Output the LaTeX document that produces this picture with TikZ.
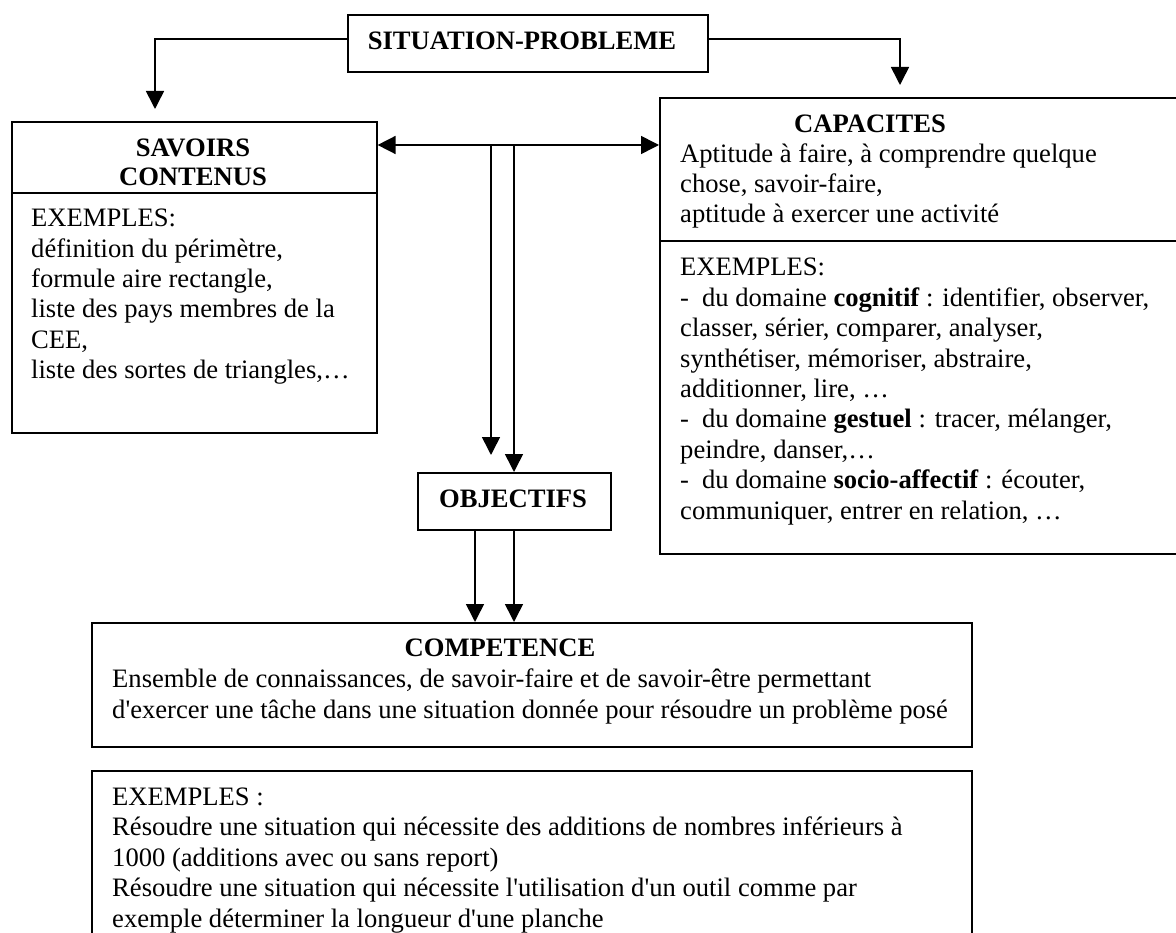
\documentclass[tikz,border=0pt]{standalone}
\usepackage{fontspec}
\setmainfont{Liberation Serif}
\usetikzlibrary{arrows.meta}
\begin{document}
\begin{tikzpicture}[x=1pt,y=-1pt,
  box/.style={draw, line width=1.6pt, inner sep=0pt, anchor=north west},
  tl/.style={anchor=base west, inner sep=0pt, font=\fontsize{26.6}{30}\selectfont},
  tc/.style={anchor=base, inner sep=0pt, font=\fontsize{26.6}{30}\selectfont\bfseries},
  conn/.style={line width=1.6pt},
  arr/.style={conn, -{Triangle[length=18pt,width=18pt]}},
  dbl/.style={conn, {Triangle[length=18pt,width=18pt]}-{Triangle[length=18pt,width=18pt]}}]
\clip (0,0) rectangle (1176,933);
\fill[white] (0,0) rectangle (1176,933);
% boxes
\node[box, minimum width=360pt, minimum height=57pt] (sp) at (347,14) {};
\node[box, minimum width=365pt, minimum height=311pt] (sav) at (11,121) {};
\node[box, minimum width=540pt, minimum height=456pt] (cap) at (659,97) {};
\node[box, minimum width=193pt, minimum height=57pt] (obj) at (417,472) {};
\node[box, minimum width=880pt, minimum height=124pt] (comp) at (91,622) {};
\node[box, minimum width=880pt, minimum height=220pt] (ex) at (91,770) {};
% dividers
\coordinate (d1) at (0,193);
\coordinate (d2) at (0,241);
\draw[line width=1.5pt] (sav.west |- d1) -- (sav.east |- d1);
\draw[line width=2.6pt] (cap.west |- d2) -- (cap.east |- d2);
% connectors
\coordinate (a1) at (155,109);
\coordinate (a2) at (900,85);
\draw[arr] ([yshift=4.5pt]sp.west) -| (a1);
\draw[arr] ([yshift=4.5pt]sp.east) -| (a2);
\coordinate (j1) at (491,145);
\coordinate (j2) at (514,145);
\coordinate (e1) at (491,455);
\draw[dbl] (sav.east |- j1) -- (cap.west |- j1);
\draw[arr] (j1) -- (e1);
\draw[arr] (j2) -- (j2 |- obj.north);
\coordinate (k1) at (475,600);
\coordinate (k2) at (514,600);
\draw[arr] (obj.south -| k1) -- (comp.north -| k1);
\draw[arr] (obj.south -| k2) -- (comp.north -| k2);
% texts
\node[tc] (tsp) at (522,50) {SITUATION-PROBLEME};
\node[tc] (ts1) at (193,157) {SAVOIRS};
\node[tc] (ts2) at (193,186) {CONTENUS};
\node[tl] (ts3) at (31,227) {EXEMPLES:};
\node[tl] (ts4) at (31,258) {définition du périmètre,};
\node[tl] (ts5) at (31,288) {formule aire rectangle,};
\node[tl] (ts6) at (31,318) {liste des pays membres de la};
\node[tl] (ts7) at (31,349) {CEE,};
\node[tl] (ts8) at (31,379) {liste des sortes de triangles,…};
\node[tc] (tc0) at (870,133) {CAPACITES};
\node[tl] (tc1) at (680,163) {Aptitude à faire, à comprendre quelque};
\node[tl] (tc2) at (680,193) {chose, savoir-faire,};
\node[tl] (tc3) at (680,223) {aptitude à exercer une activité};
\node[tl] (tc4) at (680,276) {EXEMPLES:};
\node[tl] (tc5) at (680,306.4) {-\hspace{13pt}du domaine \textbf{cognitif} : identifier, observer,};
\node[tl] (tc6) at (680,336.8) {classer, sérier, comparer, analyser,};
\node[tl] (tc7) at (680,367.2) {synthétiser, mémoriser, abstraire,};
\node[tl] (tc8) at (680,397.6) {additionner, lire, …};
\node[tl] (tc9) at (680,428) {-\hspace{13pt}du domaine \textbf{gestuel} : tracer, mélanger,};
\node[tl] (tc10) at (680,458.4) {peindre, danser,…};
\node[tl] (tc11) at (680,488.8) {-\hspace{13pt}du domaine \textbf{socio-affectif} : écouter,};
\node[tl] (tc12) at (680,519.2) {communiquer, entrer en relation, …};
\node[tc] (to) at (513,507) {OBJECTIFS};
\node[tc] (tk0) at (500,656) {COMPETENCE};
\node[tl] (tk1) at (112,687) {Ensemble de connaissances, de savoir-faire et de savoir-être permettant};
\node[tl] (tk2) at (112,718) {d\textquotesingle exercer une tâche dans une situation donnée pour résoudre un problème posé};
\node[tl] (te0) at (112,805) {EXEMPLES :};
\node[tl] (te1) at (112,835.5) {Résoudre une situation qui nécessite des additions de nombres inférieurs à};
\node[tl] (te2) at (112,866) {1000 (additions avec ou sans report)};
\node[tl] (te3) at (112,896.5) {Résoudre une situation qui nécessite l\textquotesingle utilisation d\textquotesingle un outil comme par};
\node[tl] (te4) at (112,927) {exemple déterminer la longueur d\textquotesingle une planche};
\end{tikzpicture}
\end{document}
